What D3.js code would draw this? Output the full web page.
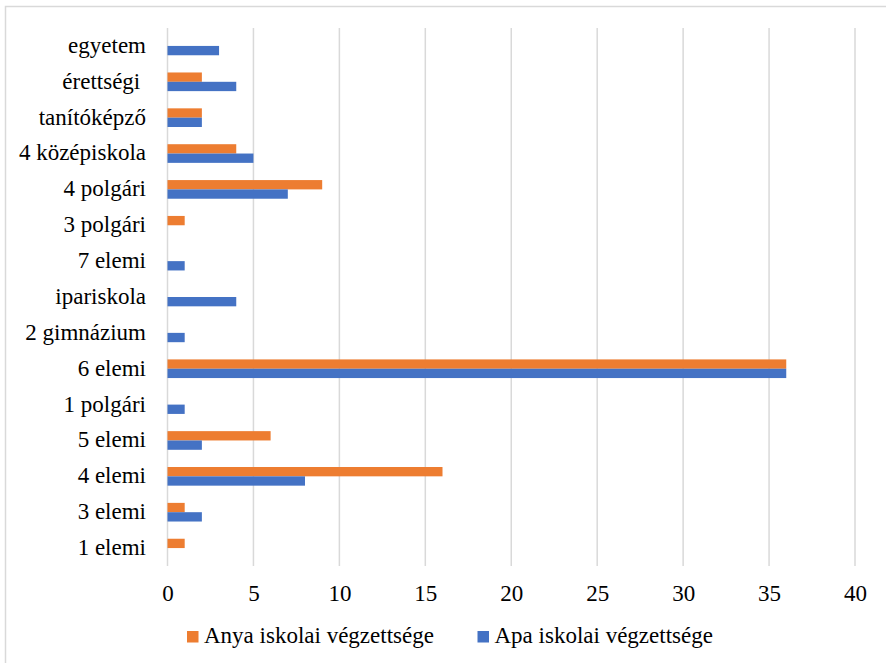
<!DOCTYPE html>
<html>
<head>
<meta charset="utf-8">
<script src="https://cdn.jsdelivr.net/npm/d3@7"></script>
<style>
  body { margin: 0; background: #fff; }
  text { font-family: "Liberation Serif", "Times New Roman", serif; fill: #000; }
</style>
</head>
<body>
<svg id="chart" width="886" height="663"></svg>
<script>
// categories, top to bottom as shown
const categories = ["egyetem", "érettségi ", "tanítóképző", "4 középiskola", "4 polgári", "3 polgári",
    "7 elemi", "ipariskola", "2 gimnázium", "6 elemi", "1 polgári", "5 elemi", "4 elemi", "3 elemi", "1 elemi"];
const anyaValues = [0, 2, 2, 4, 9, 1, 0, 0, 0, 36, 0, 6, 16, 1, 1];
const apaValues  = [3, 4, 2, 5, 7, 0, 1, 4, 1, 36, 1, 2, 8, 2, 0];
const seriesNames = ["Anya iskolai végzettsége", "Apa iskolai végzettsége"];
const seriesColors = ["#ED7D31", "#4472C4"];
const xTicks = [0, 5, 10, 15, 20, 25, 30, 35, 40];

const svg = d3.select("#chart");
const fontSize = "23px";

// outer chart border (right/bottom run off the picture)
svg.append("rect")
    .attr("x", 5.5).attr("y", 6.5)
    .attr("width", 900).attr("height", 700)
    .attr("fill", "none").attr("stroke", "#d9d9d9").attr("stroke-width", 1.5);

const plot = {left: 167.5, right: 855, top: 28, bottom: 566};

const x = d3.scaleLinear().domain([0, 40]).range([plot.left, plot.right]);
const y = d3.scaleBand().domain(categories).range([plot.top, plot.bottom]).paddingInner(0.48).paddingOuter(0.24);
const sub = d3.scaleBand().domain([0, 1]).range([0, y.bandwidth()]);

// gridlines
svg.append("g").selectAll("line")
    .data(xTicks)
    .enter().append("line")
    .attr("x1", d => x(d)).attr("x2", d => x(d))
    .attr("y1", plot.top).attr("y2", plot.bottom)
    .attr("stroke", "#d9d9d9").attr("stroke-width", 1.5);

// bars
const series = [anyaValues, apaValues];
series.forEach((vals, s) => {
    svg.append("g").selectAll("rect")
        .data(categories)
        .enter().append("rect")
        .attr("x", x(0))
        .attr("y", d => y(d) + sub(s))
        .attr("width", (d, i) => x(vals[i]) - x(0))
        .attr("height", sub.bandwidth())
        .attr("fill", seriesColors[s]);
});

// x axis labels
const xAxis = svg.append("g")
    .attr("transform", "translate(0," + 601 + ")")
    .call(d3.axisBottom(x).tickValues(xTicks).tickSize(0).tickPadding(0));
xAxis.select(".domain").remove();
xAxis.selectAll("text")
    .attr("dy", 0).attr("y", 0)
    .style("font-family", "'Liberation Serif', serif")
    .style("font-size", fontSize).style("fill", "#000");

// category labels
const yAxis = svg.append("g")
    .attr("transform", "translate(146,0)")
    .call(d3.axisLeft(y).tickSize(0).tickPadding(0));
yAxis.select(".domain").remove();
yAxis.selectAll("text")
    .attr("x", 0)
    .attr("dy", "0.3em")
    .style("white-space", "pre")
    .style("font-family", "'Liberation Serif', serif")
    .style("font-size", fontSize).style("fill", "#000");

// legend
const legendX = [187, 477.5];
const legend = svg.append("g");
seriesNames.forEach((name, i) => {
    legend.append("rect")
        .attr("x", legendX[i]).attr("y", 631)
        .attr("width", 11.5).attr("height", 11.5)
        .attr("fill", seriesColors[i]);
    legend.append("text")
        .attr("x", legendX[i] + 17).attr("y", 643)
        .style("font-size", fontSize)
        .text(name);
});
</script>
</body>
</html>
